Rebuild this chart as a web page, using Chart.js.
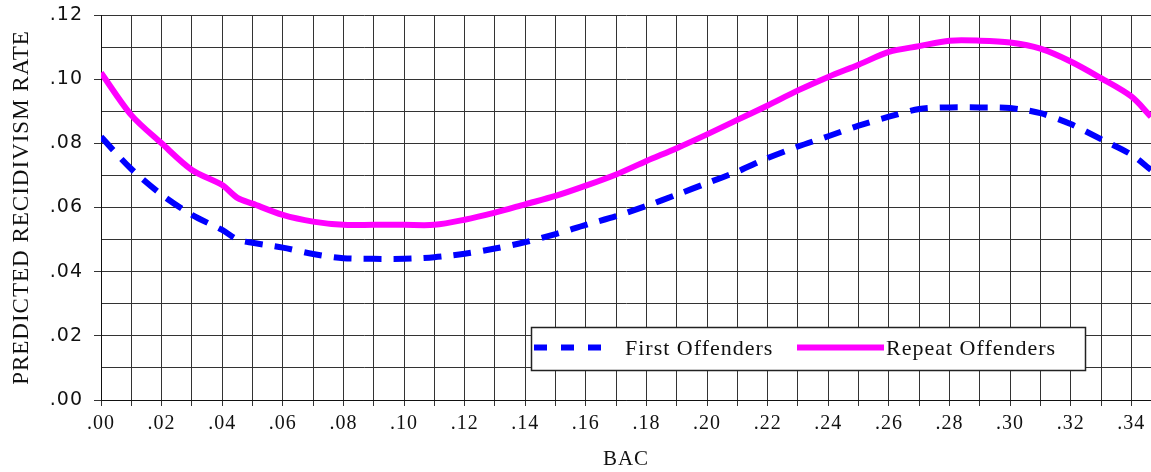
<!DOCTYPE html>
<html>
<head>
<meta charset="utf-8">
<script src="https://cdn.jsdelivr.net/npm/chart.js@4.4.0/dist/chart.umd.min.js"></script>
<style>
  body { margin: 0; background: #fff; }
  #wrap { width: 1151px; height: 472px; position: relative; }
</style>
</head>
<body>
<div id="wrap"><canvas id="recidivism"></canvas></div>
<script>
// BAC values (x) and predicted recidivism rates
const bac = [0, .01, .02, .03, .04, .045, .05, .06, .07, .08, .09, .10, .11, .12, .13, .14, .15, .16, .17,
  .18, .19, .20, .21, .22, .23, .24, .25, .26, .27, .28, .29, .30, .31, .32, .33, .34, .3465];
const firstOffenders = [.0820, .0720, .0640, .0577, .0530, .0500, .0490, .0475, .0455, .0442, .0440, .0440,
  .0445, .0456, .0472, .0492, .0517, .0546, .0573, .0605, .0640, .0676, .0712, .0754, .0790, .0822, .0855,
  .0883, .0907, .0912, .0912, .0910, .0894, .0860, .0813, .0765, .0717];
const repeatOffenders = [.1020, .0888, .0800, .0717, .0670, .0630, .0612, .0577, .0556, .0546, .0546, .0546,
  .0546, .0562, .0584, .0610, .0636, .0668, .0703, .0745, .0785, .0828, .0873, .0918, .0965, .1007, .1045,
  .1085, .1103, .1120, .1120, .1114, .1095, .1055, .1003, .0946, .0883];
const seriesNames = ['First Offenders', 'Repeat Offenders'];
const xTickCount = 35;   // .00 … .34, one grid line per .01

const fmt = v => v.toFixed(2).replace(/^0/, '');
const even = v => Math.round(v * 100) % 2 === 0;
const serif = '"Liberation Serif", "Times New Roman", serif';

// the original type is wide, a little letter spacing gets us closer
const spacing = {
  id: 'spacing',
  beforeLayout(chart) { chart.ctx.letterSpacing = '1px'; },
  beforeDraw(chart) { chart.ctx.letterSpacing = '1px'; }
};

// legend drawn as a framed box inside the plot, like the original
const boxLegend = {
  id: 'boxLegend',
  afterDraw(chart) {
    const ctx = chart.ctx;
    const x = 531, y = 327, w = 554, h = 43, cy = y + h / 2;
    ctx.save();
    ctx.fillStyle = '#fff';
    ctx.fillRect(x, y, w, h);
    ctx.strokeStyle = '#222';
    ctx.lineWidth = 1.5;
    ctx.strokeRect(x + 0.5, y + 0.5, w, h);

    const ds = chart.data.datasets;
    ctx.font = '22px ' + serif;
    ctx.textBaseline = 'middle';
    ctx.fillStyle = '#111';
    // first offenders: dashed sample
    ctx.strokeStyle = ds[0].borderColor;
    ctx.lineWidth = 6;
    ctx.setLineDash([13, 14]);
    ctx.beginPath();
    ctx.moveTo(534, cy - 1);
    ctx.lineTo(606, cy - 1);
    ctx.stroke();
    ctx.fillText(ds[0].label, 625, cy + 1);
    // repeat offenders: solid sample
    ctx.setLineDash([]);
    ctx.strokeStyle = ds[1].borderColor;
    ctx.beginPath();
    ctx.moveTo(797, cy - 1);
    ctx.lineTo(884, cy - 1);
    ctx.stroke();
    ctx.fillText(ds[1].label, 886, cy + 1);
    ctx.restore();
  }
};

const ctxL = document.getElementById('recidivism').getContext('2d');

new Chart(ctxL, {
  type: 'line',
  plugins: [spacing, boxLegend],
  data: {
    datasets: [{
      label: seriesNames[0],
      data: bac.map((b, i) => ({ x: b, y: firstOffenders[i] })),
      borderColor: '#0000ff',
      borderWidth: 6,
      borderDash: [18, 12],
      pointRadius: 0,
      tension: 0.3,
      fill: false
    }, {
      label: seriesNames[1],
      data: bac.map((b, i) => ({ x: b, y: repeatOffenders[i] })),
      borderColor: '#ff00ff',
      borderWidth: 6,
      pointRadius: 0,
      tension: 0.3,
      fill: false
    }]
  },
  options: {
    responsive: true,
    maintainAspectRatio: false,
    animation: false,
    layout: { padding: { top: 15, right: 0, bottom: 0, left: 0 } },
    plugins: {
      legend: { display: false },
      tooltip: { enabled: false }
    },
    scales: {
      x: {
        type: 'linear',
        min: 0,
        max: 0.3465,
        afterFit: s => { s.height = 72; s.paddingLeft = 0; s.paddingRight = 0; },
        afterBuildTicks: s => {
          s.ticks = Array.from({ length: xTickCount }, (_, i) => ({ value: i / 100 }));
        },
        ticks: {
          autoSkip: false,
          maxRotation: 0,
          padding: 6,
          color: '#111',
          font: { family: serif, size: 20 },
          callback: v => even(v) ? fmt(v) : ''
        },
        grid: { color: '#333', lineWidth: 1, tickLength: 6, tickColor: '#333' },
        border: { color: '#111', width: 1 },
        title: {
          display: true,
          text: 'BAC',
          color: '#111',
          font: { family: serif, size: 21 },
          padding: { top: 0, bottom: 0 }
        }
      },
      y: {
        min: 0,
        max: 0.12,
        afterFit: s => { s.width = 101; s.paddingTop = 0; s.paddingBottom = 0; },
        ticks: {
          stepSize: 0.01,
          autoSkip: false,
          padding: 11,
          color: '#111',
          font: { family: '"DejaVu Sans", sans-serif', size: 19 },
          callback: v => even(v) ? fmt(v) : ''
        },
        grid: {
          color: '#333',
          lineWidth: 1,
          tickLength: 7,
          tickColor: c => even(c.tick.value) ? '#333' : 'rgba(0,0,0,0)'
        },
        border: { color: '#111', width: 1 },
        title: {
          display: true,
          text: 'PREDICTED RECIDIVISM RATE',
          color: '#111',
          font: { family: serif, size: 23 },
          padding: { top: 8, bottom: 0 }
        }
      }
    }
  }
});
</script>
</body>
</html>
